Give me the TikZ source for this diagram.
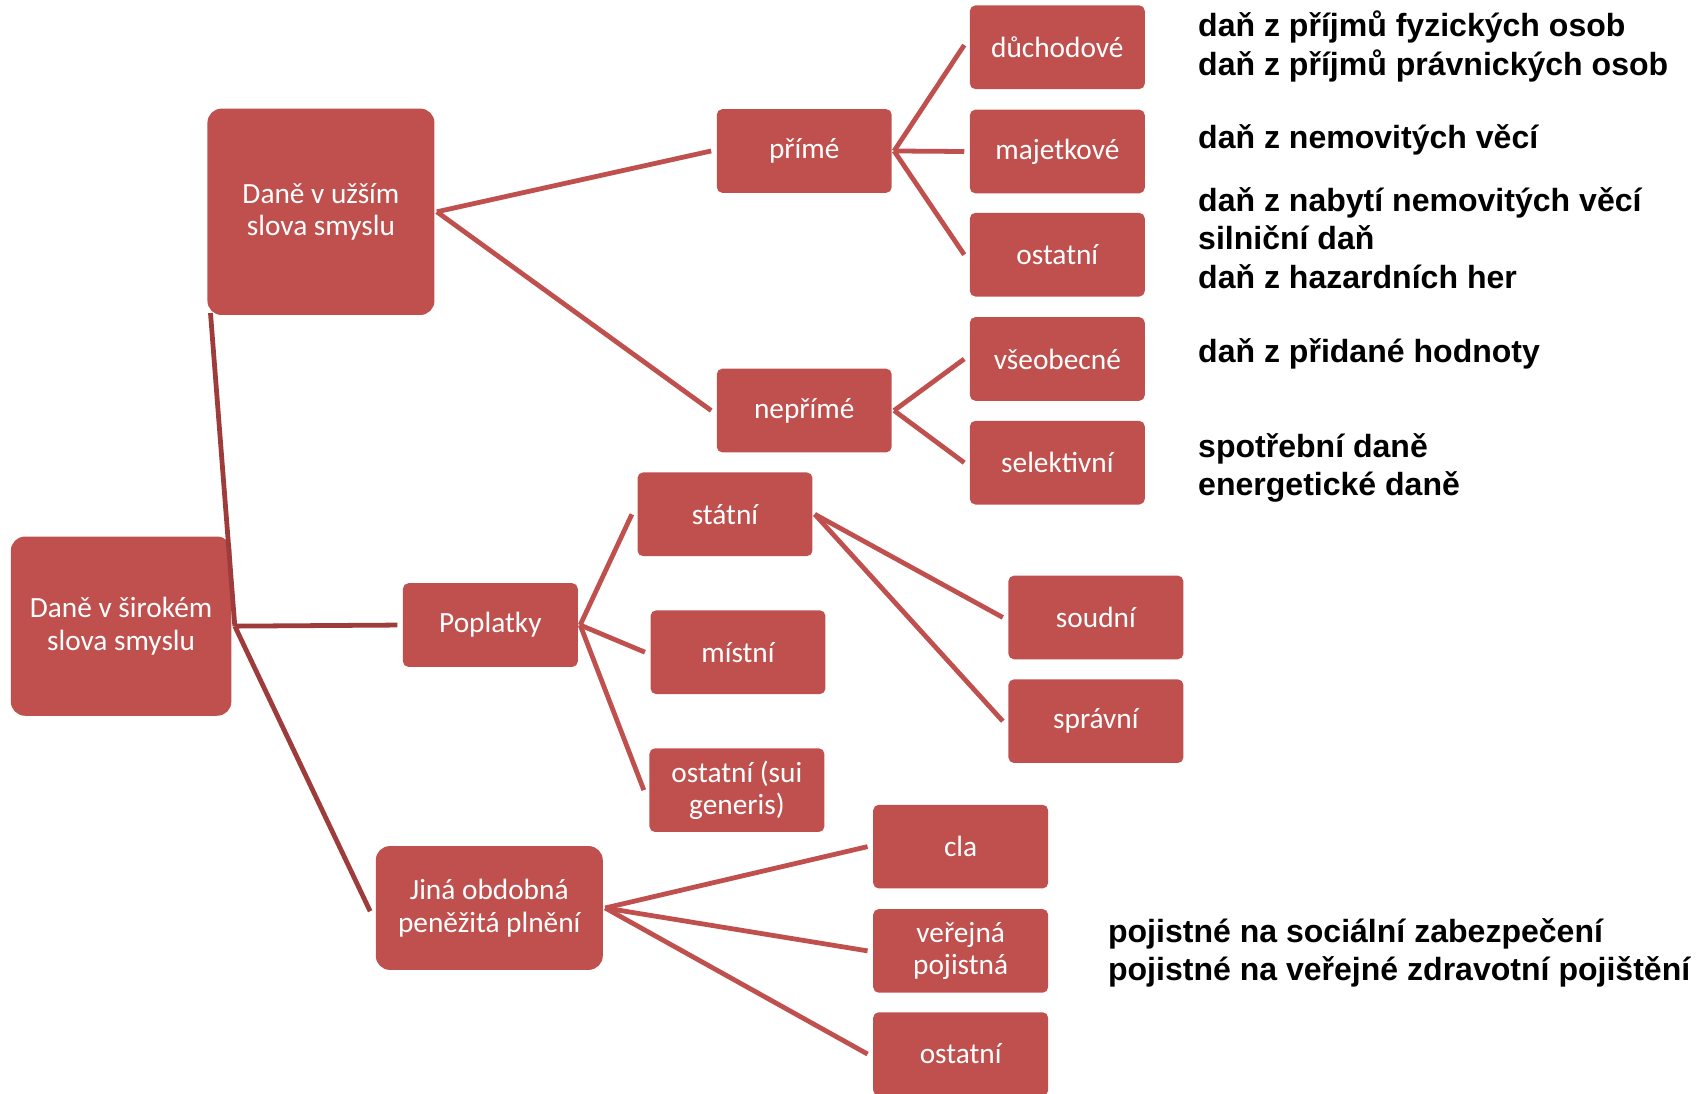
\documentclass[tikz,border=0pt]{standalone}
\usepackage{fontspec}
\setmainfont{Carlito}
\newfontfamily\notefont{Liberation Sans}
\begin{document}
\begin{tikzpicture}[x=1pt,y=-1pt,
  tbox/.style={fill=boxred,draw=none,rounded corners=5pt,text=white,
    minimum width=161pt,minimum height=77pt,align=center,inner sep=2pt,
    font=\fontsize{27}{30}\selectfont},
  bigbox/.style={tbox,rounded corners=13pt},
  link/.style={draw=boxred,line width=4.4pt},
  rootlink/.style={draw=linkdark,line width=4.4pt},
  note/.style={anchor=west,align=left,inner sep=0pt,
    font=\notefont\bfseries\fontsize{29.5}{35.5}\selectfont}]
\definecolor{boxred}{HTML}{C0504D}
\definecolor{linkdark}{HTML}{9E3C3B}
\useasboundingbox (0,0) rectangle (1568,1007);

% main categories
\node[bigbox,minimum width=203pt,minimum height=165pt] (root) at (111.5,576.5) {Daně v širokém\\slova smyslu};
\node[bigbox,minimum width=209pt,minimum height=190pt] (uzsi) at (295.5,195) {Daně v užším\\slova smyslu};
\node[tbox] (popl) at (451.5,575.5) {Poplatky};
\node[bigbox,minimum width=209pt,minimum height=114pt] (jina) at (450.5,836) {Jiná obdobná\\peněžitá plnění};

% taxes in the narrow sense
\node[tbox] (prime) at (740.5,139) {přímé};
\node[tbox] (neprime) at (740.5,378) {nepřímé};
\node[tbox] (duch) at (973.5,43.5) {důchodové};
\node[tbox] (majet) at (973.5,139.5) {majetkové};
\node[tbox] (ostd) at (973.5,234.5) {ostatní};
\node[tbox] (vseob) at (973.5,330.5) {všeobecné};
\node[tbox] (selek) at (973.5,426) {selektivní};

% fees
\node[tbox] (statni) at (667.5,473.5) {státní};
\node[tbox] (mistni) at (679.5,600.5) {místní};
\node[tbox] (suigen) at (678.5,727.5) {ostatní (sui\\generis)};
\node[tbox] (soudni) at (1009,568.5) {soudní};
\node[tbox] (spravni) at (1009,664) {správní};

% other similar payments
\node[tbox] (cla) at (884.5,779.5) {cla};
\node[tbox] (pojist) at (884.5,875.5) {veřejná\\pojistná};
\node[tbox] (ostj) at (884.5,970.5) {ostatní};

% connectors
\draw[rootlink] ([xshift=3pt]root.east) -- ([xshift=3pt,yshift=2pt]uzsi.south west);
\draw[rootlink] ([xshift=3pt]root.east) -- ([xshift=-5pt]popl.west);
\draw[rootlink] ([xshift=3pt]root.east) -- ([xshift=-5pt,yshift=-3pt]jina.west);

\draw[link] ([xshift=2pt]uzsi.east) -- ([xshift=-5pt]prime.west);
\draw[link] ([xshift=2pt]uzsi.east) -- ([xshift=-5pt]neprime.west);

\draw[link] ([xshift=2pt]prime.east) -- ([xshift=-5pt,yshift=2pt]duch.west);
\draw[link] ([xshift=2pt]prime.east) -- ([xshift=-5pt]majet.west);
\draw[link] ([xshift=2pt]prime.east) -- ([xshift=-5pt]ostd.west);
\draw[link] ([xshift=2pt]neprime.east) -- ([xshift=-5pt]vseob.west);
\draw[link] ([xshift=2pt]neprime.east) -- ([xshift=-5pt]selek.west);

\draw[link] ([xshift=2pt]popl.east) -- ([xshift=-5pt]statni.west);
\draw[link] ([xshift=2pt]popl.east) -- ([xshift=-5pt]mistni.west);
\draw[link] ([xshift=2pt]popl.east) -- ([xshift=-5pt]suigen.west);
\draw[link] ([xshift=2pt]statni.east) -- ([xshift=-5pt]soudni.west);
\draw[link] ([xshift=2pt]statni.east) -- ([xshift=-5pt]spravni.west);

\draw[link] ([xshift=2pt]jina.east) -- ([xshift=-5pt]cla.west);
\draw[link] ([xshift=2pt]jina.east) -- ([xshift=-5pt]pojist.west);
\draw[link] ([xshift=2pt]jina.east) -- ([xshift=-5pt]ostj.west);

% examples
\node[note] (n1) at (1103,43) {daň z příjmů fyzických osob\\daň z příjmů právnických osob};
\node[note] (n2) at (1103,128.5) {daň z nemovitých věcí};
\node[note] (n3) at (1103,219) {daň z nabytí nemovitých věcí\\silniční daň\\daň z hazardních her};
\node[note] (n4) at (1103,325.5) {daň z přidané hodnoty};
\node[note] (n5) at (1103,431) {spotřební daně\\energetické daně};
\node[note] (n6) at (1020,877.5) {pojistné na sociální zabezpečení\\pojistné na veřejné zdravotní pojištění};
\end{tikzpicture}
\end{document}
